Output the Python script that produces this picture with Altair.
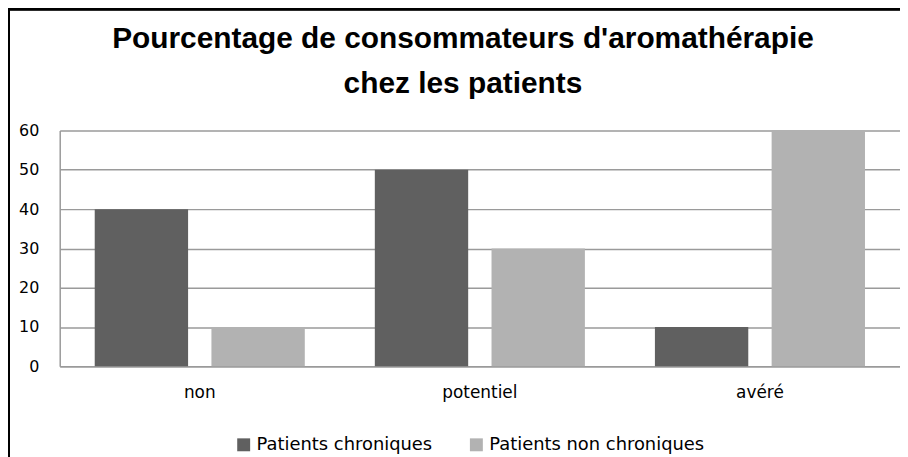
import altair as alt
import pandas as pd

categories = ["non", "potentiel", "avéré"]
series = ["Patients chroniques", "Patients non chroniques"]
chroniques = [40, 50, 10]
non_chroniques = [10, 30, 60]
colors = ["#606060", "#b2b2b2"]

rows = []
for c, a, b in zip(categories, chroniques, non_chroniques):
    rows.append({"cat": c, "serie": series[0], "val": a})
    rows.append({"cat": c, "serie": series[1], "val": b})
df = pd.DataFrame(rows)

base = alt.Chart(df)

bars = base.mark_bar().encode(
    x=alt.X("cat:N", sort=categories, title=None,
            scale=alt.Scale(paddingInner=0.25, paddingOuter=0.125),
            axis=alt.Axis(labelAngle=0, labelFont="DejaVu Sans", labelFontSize=17,
                          labelColor="#000000", labelPadding=18, ticks=False,
                          domainColor="#9a9a9a", domainWidth=1.5)),
    xOffset=alt.XOffset("serie:N", sort=series,
                        scale=alt.Scale(paddingInner=0.2, paddingOuter=0)),
    y=alt.Y("val:Q", title=None,
            scale=alt.Scale(domain=[0, 60]),
            axis=alt.Axis(values=[0, 10, 20, 30, 40, 50, 60], labelFont="DejaVu Sans",
                          labelFontSize=16, labelColor="#000000", labelPadding=21,
                          ticks=False, domainColor="#9a9a9a", domainWidth=1.5,
                          grid=True, gridColor="#9a9a9a", gridWidth=1.5)),
    color=alt.Color("serie:N", sort=series,
                    scale=alt.Scale(domain=series, range=colors),
                    legend=alt.Legend(title=None, orient="none", direction="horizontal",
                                      legendX=176, legendY=307, padding=0,
                                      symbolType="square", symbolSize=169,
                                      symbolStrokeWidth=0, labelFont="DejaVu Sans",
                                      labelFontSize=18, labelColor="#000000",
                                      labelOffset=4, columnPadding=35, labelLimit=400)),
)

left_border = base.mark_rule(color="#000000", strokeWidth=2).encode(
    x=alt.value(-51), y=alt.value(-122), y2=alt.value(330)
)
top_border = base.mark_rule(color="#000000", strokeWidth=2).encode(
    x=alt.value(-52), x2=alt.value(850), y=alt.value(-122)
)

chart = alt.layer(bars, left_border, top_border).properties(
    width=845,
    height=237,
    autosize=alt.AutoSizeParams(type="none"),
    padding={"left": 52, "top": 122, "right": 0, "bottom": 90},
    title=alt.Title(["Pourcentage de consommateurs d'aromathérapie", "chez les patients"],
                    font="Liberation Sans", fontSize=30, fontWeight="bold",
                    color="#000000", lineHeight=45, anchor="middle", dx=-17, offset=20,
                    dy=111),
).configure_view(stroke=None)

chart.save("out.html", embed_options={"renderer": "svg", "actions": False})
